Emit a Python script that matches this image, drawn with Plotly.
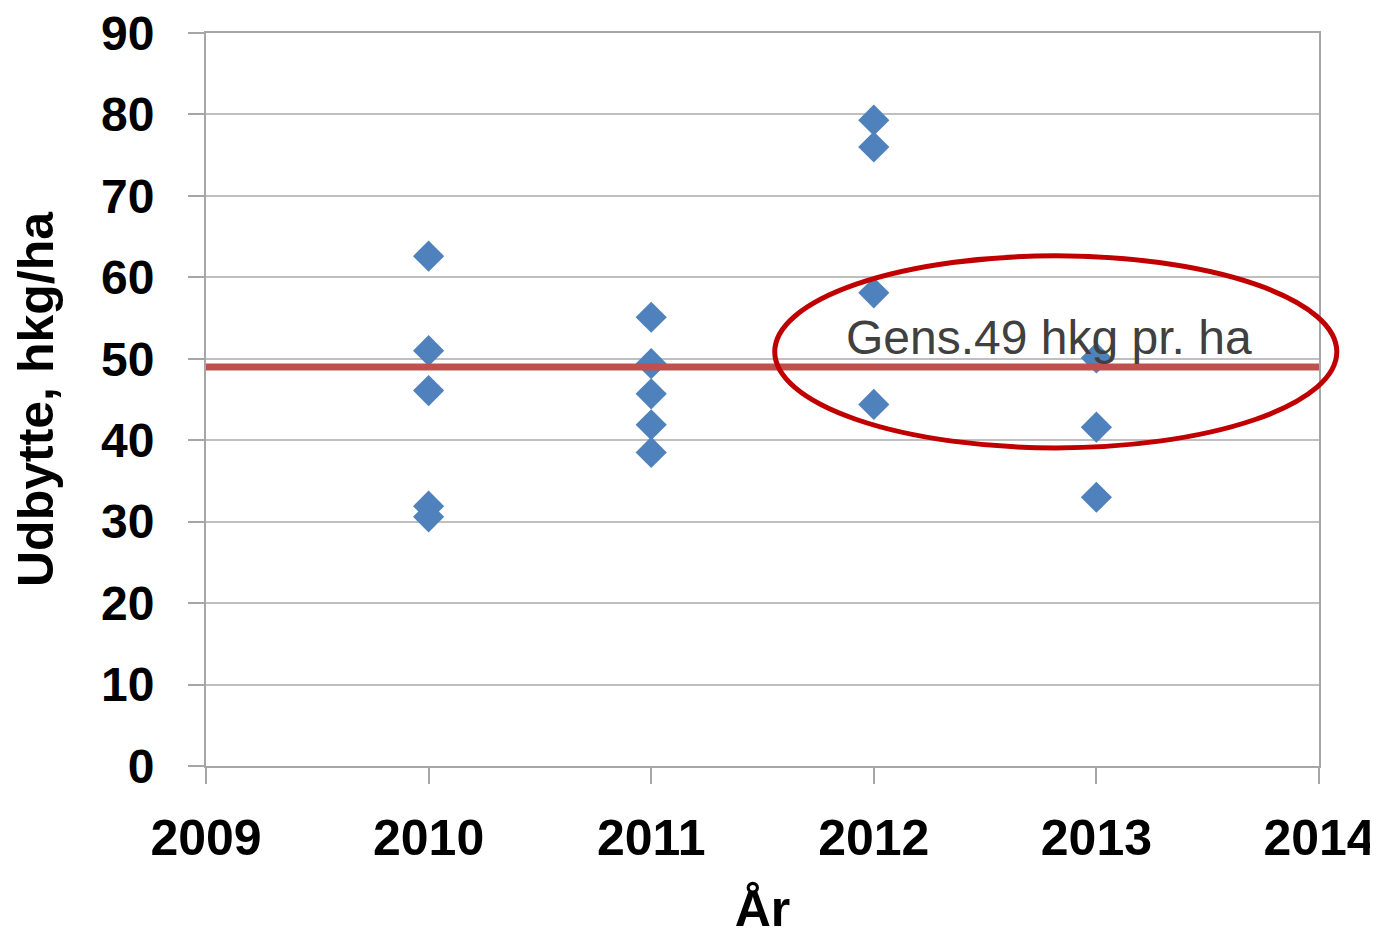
import plotly.graph_objects as go

# Data
years_2010 = [2010, 2010, 2010, 2010, 2010]
yield_2010 = [62.6, 51.0, 46.1, 31.9, 30.6]
years_2011 = [2011, 2011, 2011, 2011, 2011]
yield_2011 = [55.1, 49.4, 45.7, 41.9, 38.5]
years_2012 = [2012, 2012, 2012, 2012]
yield_2012 = [79.3, 76.0, 58.1, 44.4]
years_2013 = [2013, 2013, 2013]
yield_2013 = [50.1, 41.6, 33.0]

mean_x = [2009, 2014]
mean_y = [49, 49]

x_ticks = [2009, 2010, 2011, 2012, 2013, 2014]
y_ticks = [0, 10, 20, 30, 40, 50, 60, 70, 80, 90]

all_x = years_2010 + years_2011 + years_2012 + years_2013
all_y = yield_2010 + yield_2011 + yield_2012 + yield_2013

fig = go.Figure()
fig.add_trace(go.Scatter(
    x=all_x, y=all_y, mode="markers",
    marker=dict(symbol="diamond", size=24, color="#4F81BD", line=dict(width=0)),
    showlegend=False, cliponaxis=False,
))
fig.add_trace(go.Scatter(
    x=mean_x, y=mean_y, mode="lines",
    line=dict(color="#C0504D", width=7),
    showlegend=False,
))

xfont = dict(family="Liberation Sans", size=50, color="#000000", weight="bold")
yfont = dict(family="Liberation Sans", size=48, color="#000000", weight="bold")

fig.update_layout(
    width=1370, height=929,
    margin=dict(l=198, r=59, t=25, b=171),
    paper_bgcolor="white", plot_bgcolor="white",
    xaxis=dict(
        range=[2009, 2014], tickvals=x_ticks, ticktext=[str(v) for v in x_ticks],
        showgrid=False, zeroline=False, automargin=False,
        showline=True, linecolor="#A6A6A6", linewidth=2, mirror=True,
        ticks="outside", ticklen=16, tickwidth=2, tickcolor="#A6A6A6",
        tickfont=xfont, ticklabelstandoff=11, ticklabeloverflow="allow",
        title=dict(text="År", font=xfont, standoff=36),
    ),
    yaxis=dict(
        range=[0, 90], tickvals=y_ticks,
        showgrid=True, gridcolor="#BFBFBF", gridwidth=2, zeroline=False, automargin=False,
        showline=True, linecolor="#A6A6A6", linewidth=2, mirror=True,
        ticks="outside", ticklen=16, tickwidth=2, tickcolor="#A6A6A6",
        tickfont=yfont, ticklabelstandoff=24, ticklabeloverflow="allow",
        title=dict(text="Udbytte, hkg/ha", font=dict(family="Liberation Sans", size=50, color="#000000", weight="bold"), standoff=36),
    ),
    shapes=[dict(
        type="circle", xref="paper", yref="paper",
        x0=0.511, x1=1.016, y0=0.434, y1=0.696,
        line=dict(color="#C00000", width=5), fillcolor="rgba(0,0,0,0)",
    )],
    annotations=[dict(
        xref="paper", yref="paper", x=0.757, y=0.584,
        text="Gens.49 hkg pr. ha", showarrow=False,
        font=dict(family="Liberation Sans", size=48, color="#404040"),
        xanchor="center", yanchor="middle",
    )],
)

fig.write_html("out.html")
